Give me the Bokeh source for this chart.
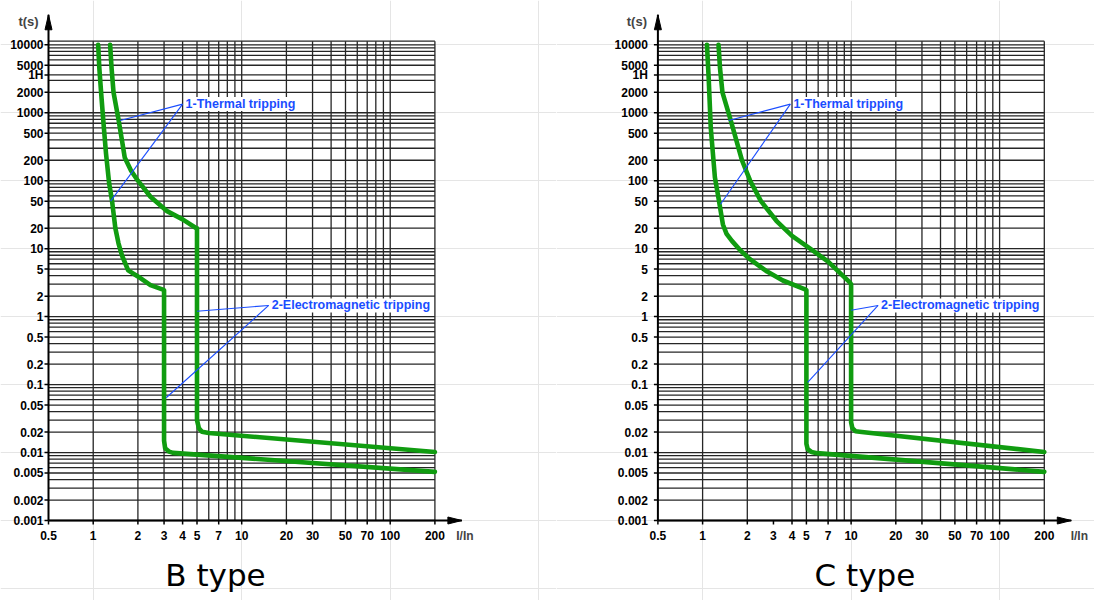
from bokeh.plotting import figure
from bokeh.layouts import row
from bokeh.models import Label
from bokeh.core.properties import value
from bokeh.embed import file_html
from bokeh.resources import INLINE

# ---------------- data ----------------
titles = ["B type", "C type"]
x_ticks = [0.5, 1, 2, 3, 4, 5, 7, 10, 20, 30, 50, 70, 100, 200]
x_tick_labels = ["0.5", "1", "2", "3", "4", "5", "7", "10", "20", "30", "50", "70", "100", "200"]
y_ticks = [0.001, 0.002, 0.005, 0.01, 0.02, 0.05, 0.1, 0.2, 0.5, 1, 2, 5, 10, 20, 50,
           100, 200, 500, 1000, 2000, 3600, 5000, 10000]
y_tick_labels = ["0.001", "0.002", "0.005", "0.01", "0.02", "0.05", "0.1", "0.2", "0.5", "1",
                 "2", "5", "10", "20", "50", "100", "200", "500", "1000", "2000", "1H", "5000", "10000"]

b_vgrid = [1, 2, 3, 4, 5, 6, 7, 8, 9, 10, 20, 30, 40, 50, 60, 70, 80, 90, 100, 200]
c_vgrid = [1, 2, 4, 5, 6, 7, 8, 9, 10, 20, 30, 40, 50, 60, 70, 80, 90, 100, 200]
hgrid_decades = [0.001, 0.01, 0.1, 1, 10, 100, 1000]
hgrid_mult = [1, 2, 3, 4, 5, 6, 7, 8, 9]

# B type curves
b1_I = [1.08, 1.10, 1.13, 1.18, 1.22, 1.28, 1.34, 1.41, 1.48, 1.56, 1.72, 2.0, 2.43, 2.95, 3.0, 3.0,
        3.05, 3.25, 3.45, 200]
b1_t = [10000, 4500, 2000, 600, 250, 92, 50, 20, 12, 8, 4.8, 3.9, 2.9, 2.5, 2.45, 0.015,
        0.0116, 0.0103, 0.0099, 0.0052]
b2_I = [1.30, 1.33, 1.37, 1.48, 1.56, 1.63, 1.80, 2.0, 2.43, 3.12, 4.0, 4.95, 5.0, 5.0, 5.15, 5.4, 6.0, 200]
b2_t = [10000, 4500, 2000, 800, 400, 220, 140, 100, 58, 36, 27, 20, 20, 0.03, 0.0228, 0.0202, 0.0194, 0.0102]

# C type curves
c1_I = [1.07, 1.10, 1.135, 1.21, 1.29, 1.37, 1.45, 1.58, 1.80, 2.05, 2.72, 3.47, 4.95, 5.0, 5.0, 5.1, 5.4,
        5.9, 200]
c1_t = [10000, 3060, 600, 112, 50, 22.7, 16.5, 12.9, 9.4, 7.2, 4.6, 3.4, 2.5, 2.45, 0.0135, 0.0112, 0.0102,
        0.0098, 0.0052]
c2_I = [1.28, 1.31, 1.36, 1.54, 1.84, 2.09, 2.47, 3.15, 4.0, 5.3, 7.0, 9.8, 10.0, 10.0, 10.2, 10.7, 11.8, 200]
c2_t = [10000, 4500, 2000, 800, 200, 100, 50, 25.5, 15.4, 10, 6.45, 3.2, 3.0, 0.028, 0.0228, 0.0206, 0.0201,
        0.0102]

# annotations: text, vertex and the two pointed curve points
ann_text = ["1-Thermal tripping", "2-Electromagnetic tripping"]
b_ann_I = [4.0, 15.2]
b_ann_t = [1340, 1.46]
b_ann_end_I = [[1.52, 1.31], [5.0, 3.1]]
b_ann_end_t = [[771, 50], [1.2, 0.064]]
c_ann_I = [3.9, 15.2]
c_ann_t = [1340, 1.46]
c_ann_end_I = [[1.50, 1.32], [10.0, 5.1]]
c_ann_end_t = [[771, 45], [1.24, 0.108]]

# ---------------- layout / style ----------------
PXD_X = 148.5      # px per decade (x)
PXD_Y = 67.96      # px per decade (y)
H = 600
X0, Y0 = 0.5, 0.001          # axis origin (data)
ORIGIN_TOP = 520             # px from top of figure where t = 0.001
GREEN = "#109c10"
BLUE = "#1a4dff"
GRID_COLOR = "#262626"
FONT = "Liberation Sans"


def xs(x, px):
    return x * 10 ** (px / PXD_X)


def ys(y, px):
    return y * 10 ** (px / PXD_Y)


X_GRID_END = 200
Y_GRID_END = ys(10000, 3.6)
X_TIP = xs(200, 27)
Y_TIP = ys(10000, 30)

hgrid = []
for d in hgrid_decades:
    for m in hgrid_mult:
        v = m * d
        if abs(v - 4000) < 1e-6:
            v = 3600
        hgrid.append(v)
hgrid.append(10000)
hgrid.append(Y_GRID_END)


def make_panel(width, axis_px, vgrid, curves, ann_I, ann_t, end_I, end_t, title,
               title_px, label_gap, ts_dx, in_dx):
    p = figure(width=width, height=H, x_axis_type="log", y_axis_type="log",
               x_axis_location=None, y_axis_location=None,
               x_range=(xs(X0, -axis_px), xs(X0, width - axis_px)),
               y_range=(ys(Y0, -(H - ORIGIN_TOP)), ys(Y0, ORIGIN_TOP)),
               output_backend="svg", toolbar_location=None, min_border=0)
    p.outline_line_color = None
    p.background_fill_color = "white"
    p.border_fill_color = "white"

    # grid lines
    p.segment(x0=vgrid, y0=[Y0] * len(vgrid), x1=vgrid, y1=[Y_GRID_END] * len(vgrid),
              line_color=GRID_COLOR, line_width=1.3)
    p.segment(x0=[X0] * len(hgrid), y0=hgrid, x1=[X_GRID_END] * len(hgrid), y1=hgrid,
              line_color=GRID_COLOR, line_width=1.3)

    # curves
    for (I, t) in curves:
        p.line(I, t, line_color=GREEN, line_width=4.6, line_join="round", line_cap="round")

    # annotations
    for k in range(2):
        for j in range(2):
            p.line([ann_I[k], end_I[k][j]], [ann_t[k], end_t[k][j]], line_color=BLUE, line_width=1.1)
        p.add_layout(Label(x=ann_I[k], y=ann_t[k], text=ann_text[k], x_offset=3,
                           text_baseline="middle", text_align="left",
                           text_color=BLUE, text_font=FONT, text_font_style="bold",
                           text_font_size="12.5px", background_fill_color="white"))

    # axes lines
    p.segment(x0=[X0, X0], y0=[Y0, Y0], x1=[X0, X_TIP], y1=[Y_TIP, Y0],
              line_color="black", line_width=2)
    # arrow heads
    p.patch([X0, xs(X0, -3.5), xs(X0, 3.5)], [Y_TIP, ys(Y_TIP, -15), ys(Y_TIP, -15)],
            fill_color="black", line_color="black")
    p.patch([X_TIP, xs(X_TIP, -14), xs(X_TIP, -14)], [Y0, ys(Y0, 3.5), ys(Y0, -3.5)],
            fill_color="black", line_color="black")

    # ticks
    p.segment(x0=[X0] * len(y_ticks), y0=y_ticks, x1=[xs(X0, -4)] * len(y_ticks), y1=y_ticks,
              line_color="black", line_width=1.5)
    p.segment(x0=x_ticks, y0=[Y0] * len(x_ticks), x1=x_ticks, y1=[ys(Y0, -4)] * len(x_ticks),
              line_color="black", line_width=1.5)

    # tick labels
    p.text(x=[xs(X0, -label_gap)] * len(y_ticks), y=y_ticks, text=y_tick_labels,
           text_align="right", text_baseline="middle", text_font=value(FONT),
           text_font_style="bold", text_font_size="12px", text_color="black")
    p.text(x=x_ticks, y=[ys(Y0, -15)] * len(x_ticks), text=x_tick_labels,
           text_align="center", text_baseline="middle", text_font=value(FONT),
           text_font_style="bold", text_font_size="12px", text_color="black")

    # axis names
    p.add_layout(Label(x=xs(X0, ts_dx), y=ys(Y_TIP, -7), text="t(s)",
                       text_align="center", text_baseline="middle",
                       text_font=FONT, text_font_style="bold", text_font_size="13px"))
    p.add_layout(Label(x=xs(X_TIP, in_dx), y=ys(Y0, -15), text="I/In",
                       text_align="center", text_baseline="middle",
                       text_font=FONT, text_font_style="bold", text_font_size="12px"))
    # title below the chart
    p.add_layout(Label(x=xs(X0, title_px), y=ys(Y0, -54), text=title,
                       text_align="center", text_baseline="alphabetic",
                       text_font="DejaVu Sans", text_font_size="31px", text_color="black"))
    return p


pB = make_panel(556, 48, b_vgrid, [(b1_I, b1_t), (b2_I, b2_t)],
                b_ann_I, b_ann_t, b_ann_end_I, b_ann_end_t, titles[0], 167, 5, -20, 3)
pC = make_panel(538, 657.4 - 556, c_vgrid, [(c1_I, c1_t), (c2_I, c2_t)],
                c_ann_I, c_ann_t, c_ann_end_I, c_ann_end_t, titles[1], 207, 10, -21, 8)

layout = row(pB, pC)
open("out.html", "w").write(file_html(layout, INLINE))
